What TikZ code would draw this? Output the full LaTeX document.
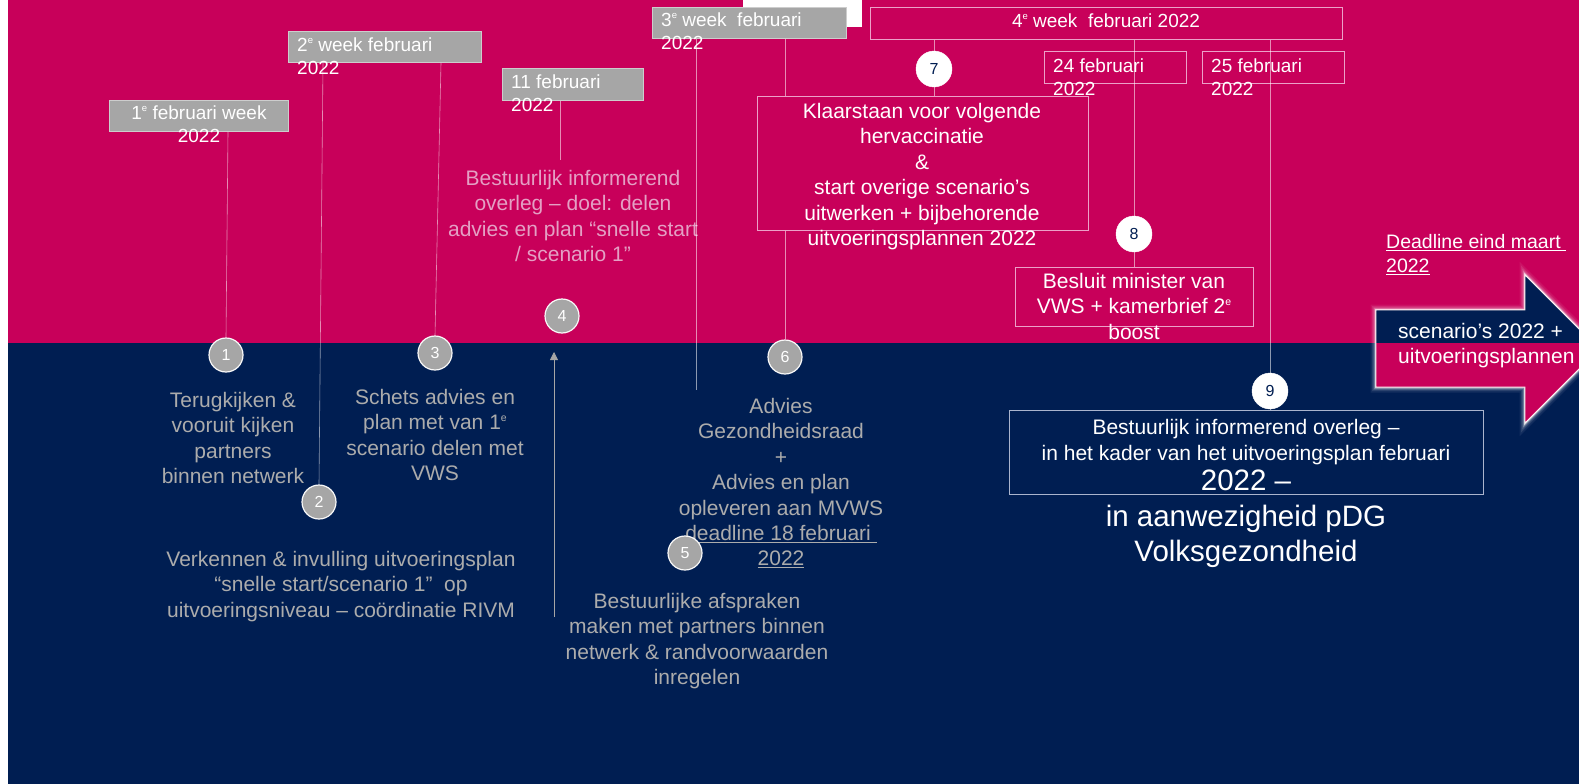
\documentclass[tikz,border=0pt]{standalone}
\usepackage{fontspec}
\setmainfont{Liberation Sans}
\usetikzlibrary{calc,arrows.meta}
\definecolor{mag}{RGB}{200,0,90}
\definecolor{navy}{RGB}{0,30,82}
\definecolor{boxgrey}{RGB}{166,166,166}
\definecolor{boxedge}{RGB}{205,205,205}
\definecolor{pinkedge}{RGB}{236,160,200}
\definecolor{txtgrey}{RGB}{172,172,172}
\definecolor{txtpink}{RGB}{228,160,196}
\definecolor{blueedge}{RGB}{170,180,205}
\newcommand\myfs[2]{\fontsize{#1}{#2}\selectfont}
\newcommand\supe{\raisebox{0.42em}{\scalebox{0.5}{e}}}
\begin{document}
\begin{tikzpicture}[x=1pt,y=-1pt,
  gbox/.style={fill=boxgrey,draw=boxedge,line width=0.8pt,inner sep=0pt,anchor=north west},
  obox/.style={draw=pinkedge,line width=0.7pt,inner sep=0pt,anchor=north west},
  nbox/.style={draw=blueedge,line width=0.7pt,inner sep=0pt,anchor=north west},
  gcirc/.style={circle,fill=boxgrey,draw=white!92!boxgrey,line width=1.2pt,minimum size=34pt,inner sep=0pt,text=white,font=\myfs{16}{16}},
  wcirc/.style={circle,fill=white,draw=white,minimum size=36pt,inner sep=0pt,text=navy,font=\myfs{16}{16}},
  lbl/.style={text=white,inner sep=0pt,font=\myfs{19}{22.5}},
  body/.style={inner sep=0pt,align=center,font=\myfs{21}{25.4}},
  conn/.style={draw=white,draw opacity=0.55,line width=0.6pt},
  connarrow/.style={draw=boxgrey,line width=0.8pt,-{Triangle[width=8pt,length=8pt]}}
]
\useasboundingbox (0,0) rectangle (1579,784);
\fill[white] (0,0) rectangle (1579,784);
\fill[mag] (8,0) rectangle (1579,343);
\fill[navy] (8,343) rectangle (1579,784);
\fill[white] (743,0) rectangle (862,27);

% big arrow
\def\arrowpath{(1376,310) -- (1525,310) -- (1525,275) -- (1599,349) -- (1525,423) -- (1525,387) -- (1376,387) -- cycle}
\foreach \w/\o in {11/0.07, 8/0.1, 5.5/0.16, 3.5/0.3, 1.8/0.6} {
  \draw[white, line width=\w pt, opacity=\o, line join=miter] \arrowpath;
}
\begin{scope}
  \clip (0,0) rectangle (1579,343);
  \fill[navy] \arrowpath;
\end{scope}
\begin{scope}
  \clip (0,343) rectangle (1579,784);
  \fill[mag] \arrowpath;
\end{scope}
\draw[white!80!pink, line width=0.8pt] \arrowpath;

% boxes
\node[gbox,minimum width=179pt,minimum height=31pt] (b1) at (109,100) {};
\node[gbox,minimum width=193pt,minimum height=31pt] (b2) at (288,31) {};
\node[gbox,minimum width=141pt,minimum height=32pt] (b3) at (502,68) {};
\node[gbox,minimum width=194pt,minimum height=31pt] (b4) at (652,7) {};
\node[obox,minimum width=472pt,minimum height=32pt] (o1) at (870,7) {};
\node[obox,minimum width=142pt,minimum height=32pt] (o2) at (1044,51) {};
\node[obox,minimum width=142pt,minimum height=32pt] (o3) at (1202,51) {};
\node[obox,minimum width=331pt,minimum height=134pt] (o4) at (757,96) {};
\node[obox,minimum width=238pt,minimum height=59pt] (o5) at (1015,267) {};
\node[nbox,minimum width=474pt,minimum height=84pt] (n1) at (1009,410) {};

% labels
\node[lbl,align=center,anchor=north] (l1) at (199,106) {1\supe{} februari week\\2022};
\node[lbl,align=left,anchor=north west] (l2) at (297,38) {2\supe{} week februari\\2022};
\node[lbl,align=left,anchor=north west] (l3) at (511,75) {11 februari\\2022};
\node[lbl,align=left,anchor=north west] (l4) at (661,13) {3\supe{} week~ februari\\2022};
\node[lbl,anchor=north] (l5) at (1106,14) {4\supe{} week~ februari 2022};
\node[lbl,align=left,anchor=north west] (l6) at (1053,59) {24 februari\\2022};
\node[lbl,align=left,anchor=north west] (l7) at (1211,59) {25 februari\\2022};

% body texts
\node[body,text=txtpink,anchor=north] (tA) at (573,170) {Bestuurlijk informerend\\overleg – doel: delen\\advies en plan “snelle start\\/ scenario 1”};
\node[body,text=white,anchor=north] (tK) at (922,103) {Klaarstaan voor volgende\\hervaccinatie\\\&\\start overige scenario’s\\uitwerken + bijbehorende\\uitvoeringsplannen 2022};
\node[body,text=white,anchor=north] (tL) at (1134,273) {Besluit minister van\\VWS + kamerbrief 2\supe\\boost};
\node[body,text=txtgrey,anchor=north] (tB) at (233,392) {Terugkijken \&\\vooruit kijken\\partners\\binnen netwerk};
\node[body,text=txtgrey,anchor=north] (tC) at (435,389) {Schets advies en\\plan met van 1\supe\\scenario delen met\\VWS};
\node[body,text=txtgrey,anchor=north] (tD) at (341,551) {Verkennen \& invulling uitvoeringsplan\\“snelle start/scenario 1”~ op\\uitvoeringsniveau – coördinatie RIVM};
\node[body,text=txtgrey,anchor=north] (tE) at (781,398) {Advies\\Gezondheidsraad\\+\\Advies en plan\\opleveren aan MVWS\\\underline{deadline 18 februari }\\\underline{2022}};
\node[body,text=txtgrey,anchor=north] (tF) at (697,593) {Bestuurlijke afspraken\\maken met partners binnen\\netwerk \& randvoorwaarden\\inregelen};
\node[text=white,inner sep=0pt,align=left,anchor=north west,font=\myfs{19.5}{24}] (tG) at (1386,234.6) {\underline{Deadline eind maart }\\\underline{2022}};
\node[text=white,inner sep=0pt,align=left,anchor=north west,font=\myfs{21}{25}] (tH) at (1398,323) {scenario’s 2022 +\\uitvoeringsplannen};
\node[text=white,inner sep=0pt,align=center,anchor=north,font=\myfs{21}{26}] (tN1) at (1246,419) {Bestuurlijk informerend overleg –\\in het kader van het uitvoeringsplan februari};
\node[text=white,inner sep=0pt,align=center,anchor=north,font=\myfs{29.5}{35.5}] (tN2) at (1246,470) {2022 –\\in aanwezigheid pDG\\Volksgezondheid};

% circles
\node[gcirc] (c1) at (226,355) {1};
\node[gcirc] (c2) at (319,502) {2};
\node[gcirc] (c3) at (435,353) {3};
\node[gcirc] (c4) at (562,316) {4};
\node[gcirc] (c5) at (685,553) {5};
\node[gcirc] (c6) at (785,357) {6};
\node[wcirc] (c7) at (934,69) {7};
\node[wcirc] (c8) at (1134,234) {8};
\node[wcirc] (c9) at (1270,391) {9};

% connectors
\coordinate (e3) at (560,160);
\coordinate (e4) at (696,390);
\coordinate (a5) at (554,617);
\coordinate (a5t) at (554,352);
\draw[conn] ($(b1.south west)+(119,0)$) -- (c1.north);
\draw[conn] ($(b2.south west)+(35,0)$) -- (c2.north);
\draw[conn] ($(b2.south west)+(153,0)$) -- (c3.north);
\draw[conn] (e3 |- b3.south) -- (e3);
\draw[connarrow] (a5) -- (a5t);
\draw[conn] (e4 |- b4.south) -- (e4);
\draw[conn] (c6 |- b4.south) -- (c6 |- o4.north);
\draw[conn] (c6 |- o4.south) -- (c6.north);
\draw[conn] (c7 |- o1.south) -- (c7.north);
\draw[conn] (c7.south) -- (c7 |- o4.north);
\draw[conn] (c8 |- o1.south) -- (c8.north);
\draw[conn] (c8.south) -- (c8 |- o5.north);
\draw[conn] (c9 |- o1.south) -- (c9.north);
\draw[conn] (c9.south) -- (c9 |- n1.north);
\end{tikzpicture}
\end{document}
